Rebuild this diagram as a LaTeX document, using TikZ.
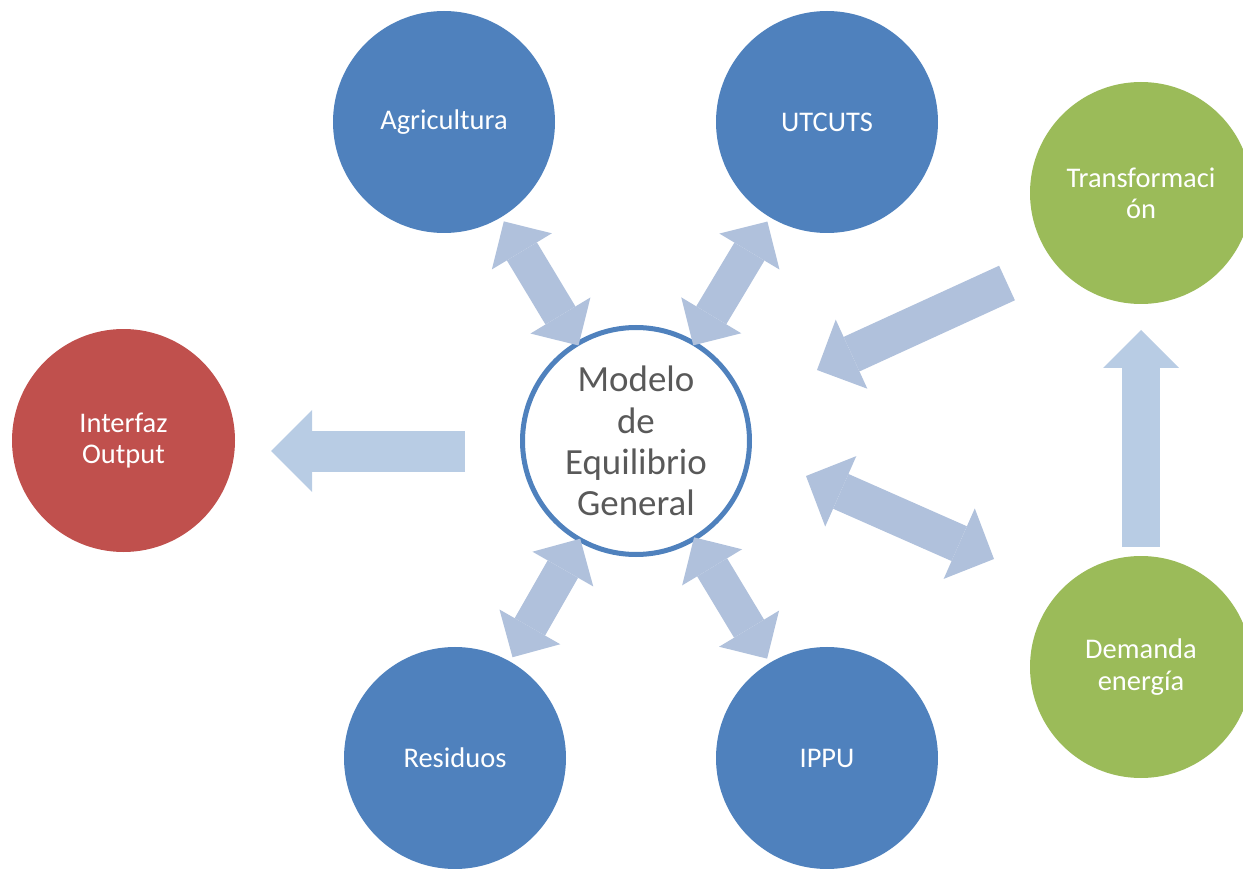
\documentclass[tikz,border=0pt]{standalone}
\usepackage{fontspec}
\setmainfont{Carlito}
\usepackage{tikz}
\usetikzlibrary{arrows.meta}

\definecolor{sectorblue}{HTML}{4F81BD}
\definecolor{energygreen}{HTML}{9BBB59}
\definecolor{outputred}{HTML}{C0504D}
\definecolor{arrowpale}{HTML}{B8CCE4}
\definecolor{arrowdark}{HTML}{B0C1DC}

\tikzset{
	sector/.style={shape=circle,fill=#1,text=white,minimum size=2.22cm,inner sep=0pt,outer sep=0pt,align=center,font=\fontsize{8.1}{8.9}\selectfont},
	model/.style={shape=circle,draw=sectorblue,line width=0.05cm,fill=white,text=black!65,minimum size=2.27cm,inner sep=0pt,outer sep=0pt,align=center,font=\fontsize{10.5}{11.7}\selectfont},
	dblarrow/.style={{Triangle[length=0.35cm,width=0.70cm,line width=0pt]}-{Triangle[length=0.35cm,width=0.70cm,line width=0pt]},line width=0.35cm,color=arrowdark},
	longdbl/.style={{Triangle[length=0.38cm,width=0.77cm,line width=0pt]}-{Triangle[length=0.38cm,width=0.77cm,line width=0pt]},line width=0.38cm,color=arrowdark},
	onearrow/.style={-{Triangle[length=#1,width=2*#1,line width=0pt]},line width=#1}
}

\begin{document}
\begin{tikzpicture}
	
	\useasboundingbox (0, 0) rectangle (12.43, 8.68);
	
	\node[sector=sectorblue] (agricultura) at (4.44, 7.46)   {Agricultura};
	\node[sector=sectorblue] (utcuts) at (8.27, 7.46)        {UTCUTS};
	\node[sector=energygreen] (transformacion) at (11.41, 6.75) {Transformaci\\ón};
	\node[sector=outputred, minimum size=2.23cm] (interfaz) at (1.235, 4.275) {Interfaz\\Output};
	\node[model] (modelo) at (6.36, 4.27)                    {Modelo\\de\\Equilibrio\\General};
	\node[sector=sectorblue] (residuos) at (4.55, 1.10)      {Residuos};
	\node[sector=sectorblue] (ippu) at (8.27, 1.10)          {IPPU};
	\node[sector=energygreen] (demanda) at (11.41, 2.01)     {Demanda\\energía};
	
	% free ends of the arrows on the right and on the left
	\coordinate (transfstart) at (10.07, 5.85);
	\coordinate (transftip) at (8.17, 4.98);
	\coordinate (demandatip) at (9.94, 3.09);
	\coordinate (modelotip) at (8.06, 3.92);
	\coordinate (outstart) at (4.65, 4.17);
	\coordinate (outtip) at (2.71, 4.17);
	
	\path[dblarrow, shorten <=-0.02cm, shorten >=0.05cm] (modelo) edge (agricultura);
	\path[dblarrow, shorten <=-0.02cm, shorten >=0.05cm] (modelo) edge (utcuts);
	\path[dblarrow, shorten <=-0.01cm, shorten >=0.05cm] (modelo) edge (residuos);
	\path[dblarrow, shorten <=-0.01cm, shorten >=0.05cm] (modelo) edge (ippu);
	\path[onearrow=0.38cm, color=arrowpale, shorten <=0.09cm, shorten >=0.26cm] (demanda) edge (transformacion);
	\draw[longdbl] (modelotip) -- (demandatip);
	\draw[onearrow=0.38cm, color=arrowdark] (transfstart) -- (transftip);
	\draw[onearrow=0.41cm, color=arrowpale] (outstart) -- (outtip);
	
\end{tikzpicture}
\end{document}
